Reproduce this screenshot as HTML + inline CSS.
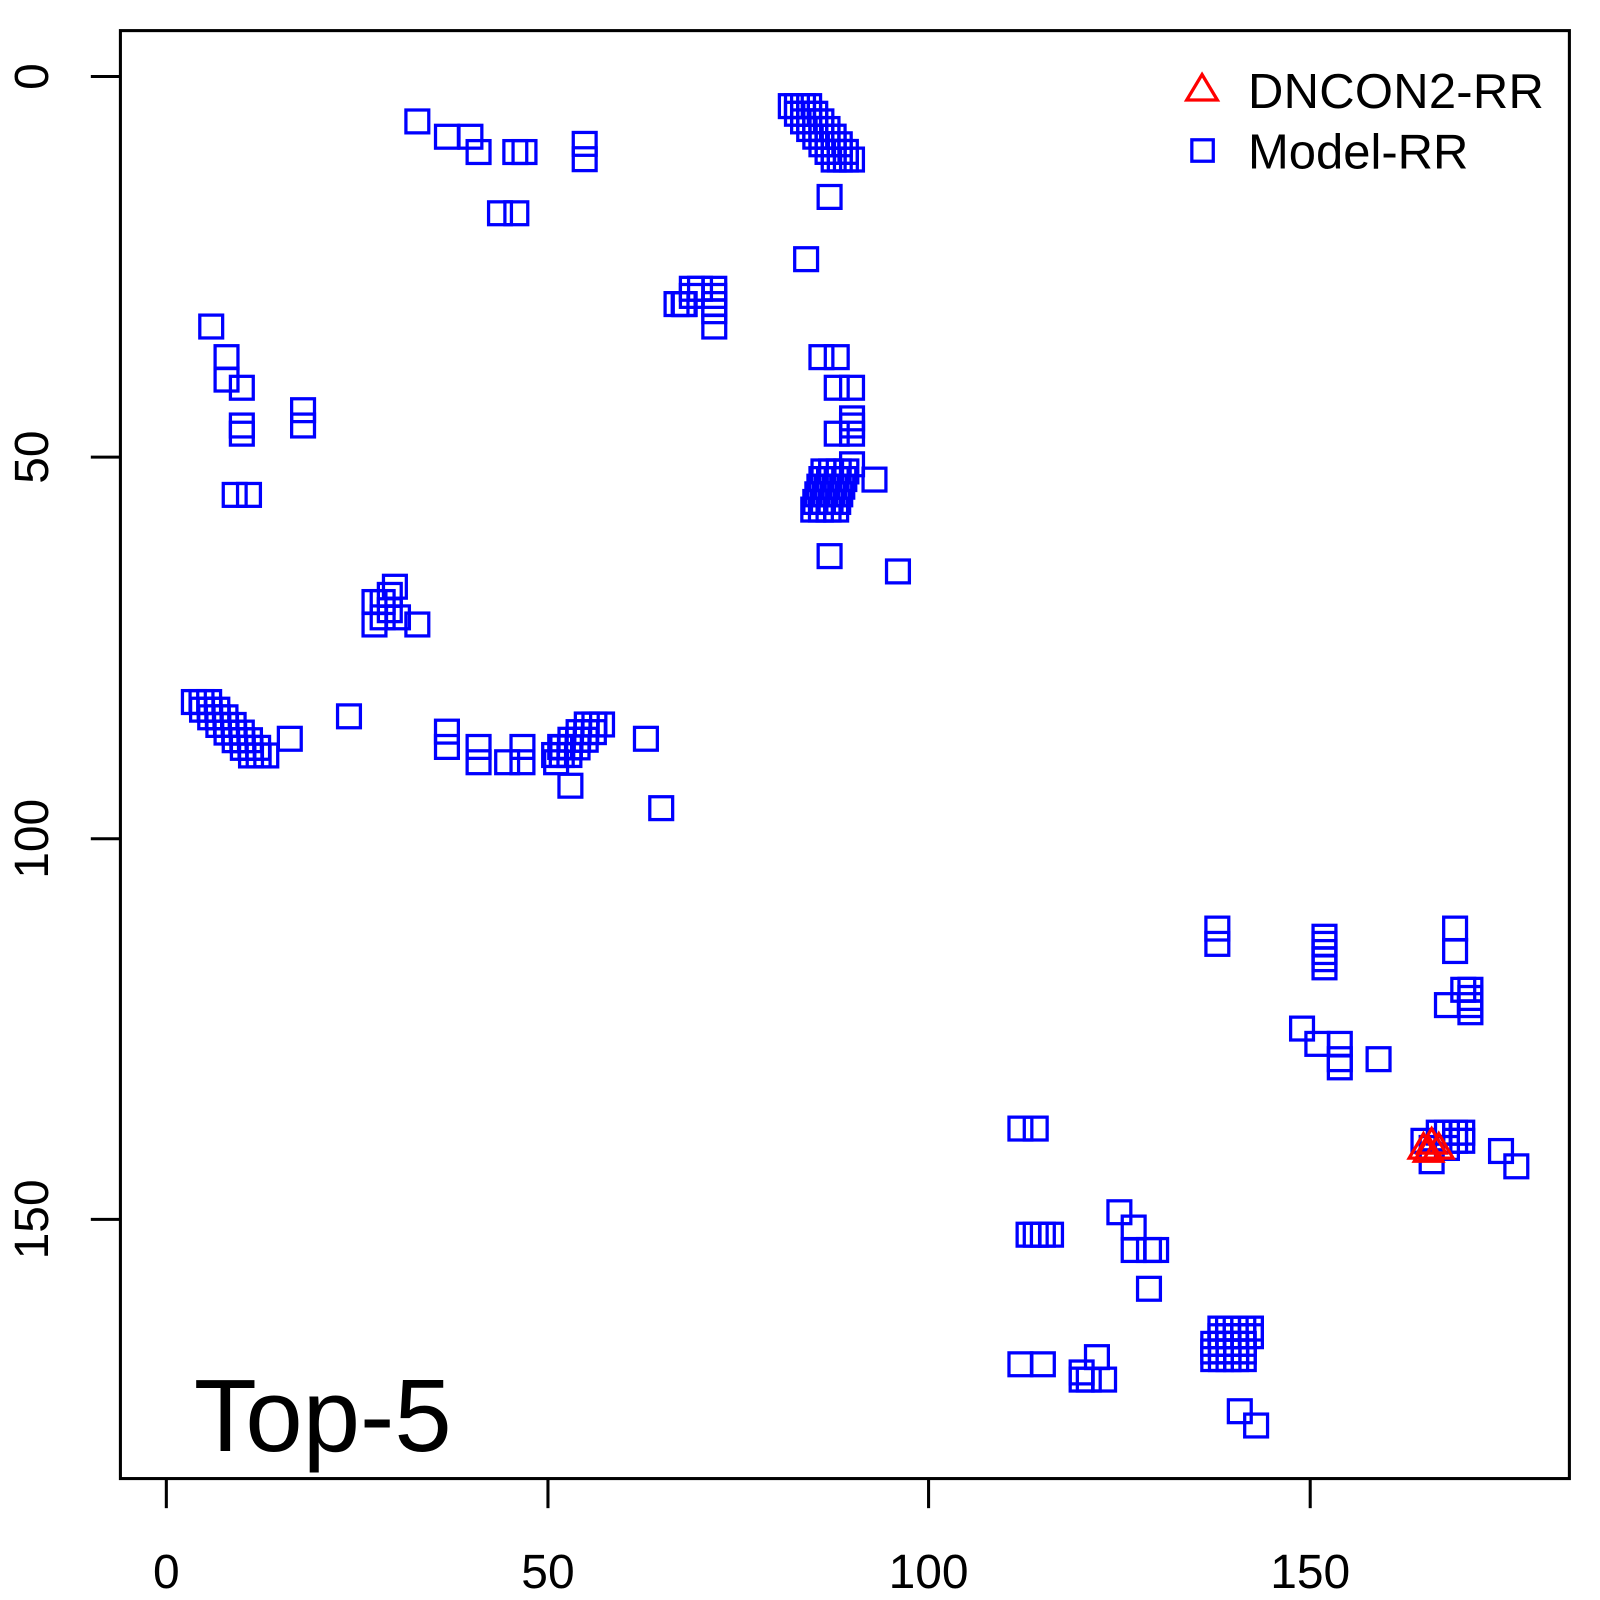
<!DOCTYPE html>
<html><head><meta charset="utf-8"><style>
html,body{margin:0;padding:0;background:#fff;}
svg{display:block;}
text{font-family:"Liberation Sans",sans-serif;fill:#000;}
</style></head><body>
<svg id="s" width="1600" height="1600" viewBox="0 0 1568 1568" xmlns="http://www.w3.org/2000/svg">
<rect x="0" y="0" width="1568" height="1568" fill="#fff"/>
<g id="pts" fill="none" stroke="#0000ff" stroke-width="3.2"></g>
<g id="tri" fill="none" stroke="#ff0000" stroke-width="3.2"></g>
<rect x="118" y="30" width="1420" height="1419" fill="none" stroke="#000" stroke-width="3"/>
<g stroke="#000" stroke-width="3">
<line x1="163" y1="1449" x2="163" y2="1478"/><line x1="537" y1="1449" x2="537" y2="1478"/>
<line x1="910" y1="1449" x2="910" y2="1478"/><line x1="1284" y1="1449" x2="1284" y2="1478"/>
<line x1="89" y1="75" x2="118" y2="75"/><line x1="89" y1="448" x2="118" y2="448"/>
<line x1="89" y1="822" x2="118" y2="822"/><line x1="89" y1="1195" x2="118" y2="1195"/>
</g>
<g font-size="47" text-anchor="middle">
<text x="163" y="1556">0</text><text x="537" y="1556">50</text>
<text x="910" y="1556">100</text><text x="1284" y="1556">150</text>
<text transform="translate(47,75) rotate(-90)">0</text>
<text transform="translate(47,448) rotate(-90)">50</text>
<text transform="translate(47,822) rotate(-90)">100</text>
<text transform="translate(47,1195) rotate(-90)">150</text>
</g>
<polygon points="1178,73 1193,98 1163,98" fill="none" stroke="#ff0000" stroke-width="3.2"/>
<rect x="1168" y="137" width="21" height="21" fill="none" stroke="#0000ff" stroke-width="3.2"/>
<text x="1223" y="106" font-size="48" textLength="290">DNCON2-RR</text>
<text x="1223" y="165" font-size="48">Model-RR</text>
<text x="190" y="1422" font-size="101">Top-5</text>
</svg>
<script>
var P=[[409,119],[438,134],[461,134],[469,149],[505,149],[514,149],[573,141],[573,156],[490,209],[506,209],
[813,193],[790,254],
[663,298],[671,298],[678,290],[678,283],[686,283],[700,283],[700,290],[700,298],[700,305],[700,320],[670,298],
[207,320],[222,350],[222,372],[237,380],[237,417],[237,425],[297,402],[297,417],[230,485],[244,485],
[805,350],[820,350],[820,380],[835,380],[835,410],[835,417],[835,425],[820,425],[835,455],[857,470],
[813,545],[880,560],
[375,590],[382,583],[387,575],[375,605],[390,605],[409,612],[367,612],[367,590],[382,598],
[284,724],[342,702],
[438,717],[438,732],[469,732],[469,747],[497,747],[512,732],[512,747],[545,747],[549,732],[559,770],[633,724],[648,792],
[1193,910],[1193,925],[1298,918],[1298,925],[1298,933],[1298,940],[1298,948],[1426,910],[1426,932],[1434,970],
[1441,970],[1441,978],[1441,985],[1441,992],[1418,985],[1276,1008],[1291,1023],[1313,1023],[1313,1038],[1313,1046],[1351,1038],
[1000,1106],[1015,1106],[1008,1210],[1015,1210],[1022,1210],[1030,1210],[1097,1188],[1111,1203],[1111,1225],[1126,1225],[1133,1225],[1126,1263],
[1000,1337],[1022,1337],[1060,1345],[1060,1352],[1067,1352],[1075,1330],[1082,1352],[1215,1383],[1231,1397],
[1395,1118],[1403,1125],[1403,1138],[1410,1110],[1418,1110],[1426,1110],[1433,1110],[1418,1125],[1426,1118],[1433,1118],
[1471,1128],[1486,1143]];
var s=7.48,r,c;
for(r=0;r<8;r++){for(c=0;c<4;c++){P.push([775+6*r+c*s*0.8,104+s*r]);}}
for(r=0;r<6;r++){for(c=0;c<4;c++){P.push([797+c*s+(5-r)*2,462+r*s]);}}
for(r=0;r<8;r++){for(c=0;c<3;c++){P.push([190+r*8+c*s,688+r*s]);}}
for(r=0;r<5;r++){for(c=0;c<3;c++){P.push([590-r*8-c*s,710+r*s]);}}
for(r=0;r<5;r++){for(c=0;c<5;c++){P.push([1189+c*s+(r<2?7:0),1302+r*s]);}}
var g=document.getElementById('pts'),h='',d=11.2;
P.forEach(function(p){h+='<rect x="'+(p[0]-d)+'" y="'+(p[1]-d)+'" width="'+(2*d)+'" height="'+(2*d)+'"/>';});
g.innerHTML=h;
var T=[[1395,1125],[1403,1120],[1410,1125],[1400,1128]],t='';
T.forEach(function(p){t+='<polygon points="'+p[0]+','+(p[1]-14)+' '+(p[0]+14)+','+(p[1]+10)+' '+(p[0]-14)+','+(p[1]+10)+'"/>';});
document.getElementById('tri').innerHTML=t;
</script>
</body></html>
